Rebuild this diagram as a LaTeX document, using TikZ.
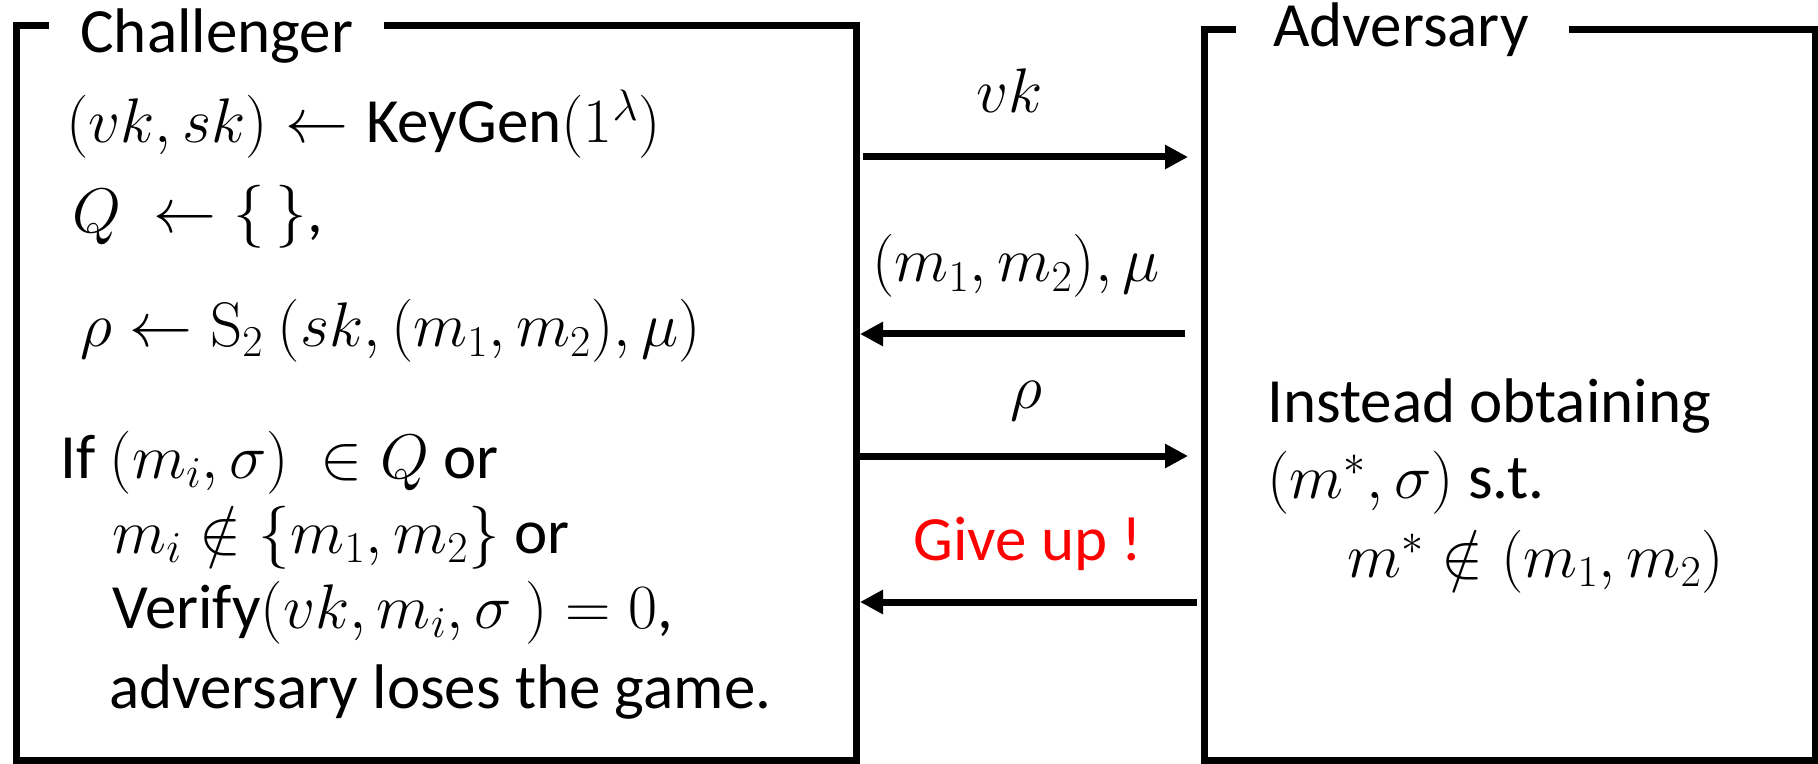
\RequirePackage{fix-cm}
\documentclass[tikz,border=0pt]{standalone}
\usepackage{amsmath}
\usepackage[no-math]{fontspec}
\setmainfont{Carlito}
\usetikzlibrary{arrows.meta}
\tikzset{
  frame/.style={line width=3.5pt, line join=miter, line cap=rect},
  arr/.style={line width=3.5pt, -{Triangle[length=11.5pt,width=11.5pt]}},
  txt/.style={anchor=base west, inner sep=0pt, font=\fontsize{31.5}{38}\selectfont},
  lbl/.style={anchor=base, inner sep=0pt, font=\fontsize{31.5}{38}\selectfont},
  area/.style={draw=none, inner sep=0pt}
}
\begin{document}
\begin{tikzpicture}[x=0.5pt, y=-0.5pt]
\useasboundingbox (0,0) rectangle (1818,764);
% box areas
\node[area, minimum width=420pt, minimum height=367pt] (ch) at (436,393) {};
\node[area, minimum width=305.5pt, minimum height=365pt] (adv) at (1509.5,395) {};
% frames
\draw[frame] (45,26) -- (16,26) -- (16,760) -- (856,760) -- (856,26) -- (387,26);
\draw[frame] (1232,30) -- (1204,30) -- (1204,760) -- (1815,760) -- (1815,30) -- (1572,30);
% titles
\node[txt] (cht) at (80,53) {Challenger};
\node[txt] (advt) at (1273,47) {Adversary};
% challenger text
\node[txt] (l1) at (66,143) {$(vk, sk) \leftarrow \text{KeyGen}(1^{\lambda})$};
\node[txt] (l2) at (72,233) {$Q\ \leftarrow \{\,\}$,};
\node[txt] (l3) at (80,347) {$\rho \leftarrow \mathrm{S}_2\ (sk, (m_1, m_2), \mu)$};
\node[txt] (l4) at (60,478) {If $(m_i, \sigma)\ \in Q$ or};
\node[txt] (l5) at (112,553) {$m_i \notin \{m_1, m_2\}$ or};
\node[txt] (l6) at (112,628) {Verify$(vk, m_i, \sigma\ ) = 0$,};
\node[txt] (l7) at (109,708) {adversary loses the game.};
% adversary text
\node[txt] (r1) at (1267,422) {Instead obtaining};
\node[txt] (r2) at (1267,498) {$(m^{*}, \sigma)$ s.t.};
\node[txt] (r3) at (1347,577) {$m^{*} \notin (m_1, m_2)$};
% arrow endpoints
\coordinate (a1s) at (863,157);  \coordinate (a1e) at (1188,157);
\coordinate (a2s) at (1185,334); \coordinate (a2e) at (860,334);
\coordinate (a3s) at (858,456);  \coordinate (a3e) at (1188,456);
\coordinate (a4s) at (1197,602); \coordinate (a4e) at (860,602);
\draw[arr] (a1s) -- (a1e);
\draw[arr] (a2s) -- (a2e);
\draw[arr] (a3s) -- (a3e);
\draw[arr] (a4s) -- (a4e);
% labels
\node[lbl] (m1) at (1010,113) {$vk$};
\node[txt] (m2) at (872,282) {$(m_1, m_2), \mu$};
\node[lbl] (m3) at (1026,408) {$\rho$};
\node[lbl, text=red] (m4) at (1028,560) {Give up !};
\end{tikzpicture}
\end{document}
